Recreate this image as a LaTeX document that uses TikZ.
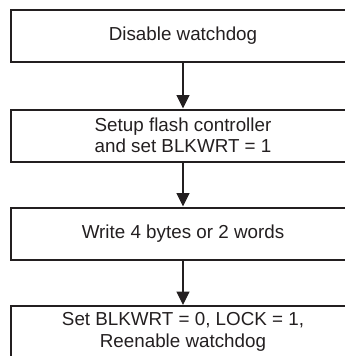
\documentclass[tikz,border=0pt]{standalone}
\usepackage{fontspec}
\setmainfont{Liberation Sans}
\usetikzlibrary{arrows.meta}
\definecolor{ink}{HTML}{231F20}
\begin{document}
\begin{tikzpicture}[x=1pt, y=-1pt,
    step box/.style={rectangle, draw=ink, line width=2pt, minimum width=344pt, minimum height=52pt, align=center, inner sep=0pt, text=ink, font=\fontsize{18.8}{21.5}\selectfont},
    arr/.style={-{Triangle[length=13.5pt, width=13pt]}, draw=ink, line width=1.1pt}
]
\useasboundingbox (0,0) rectangle (345,356);
\clip (0,0) rectangle (345,356);
\node[step box] (wdoff) at (183, 36) {Disable watchdog};
\node[step box] (setup) at (183, 135.5) {Setup flash controller\\and set BLKWRT = 1};
\node[step box] (write) at (183, 233.5) {Write 4 bytes or 2 words};
\node[step box] (wdon) at (183, 332) {Set BLKWRT = 0, LOCK = 1,\\Reenable watchdog};
\draw[arr] (wdoff) -- (setup);
\draw[arr] (setup) -- (write);
\draw[arr] (write) -- (wdon);
\end{tikzpicture}
\end{document}
